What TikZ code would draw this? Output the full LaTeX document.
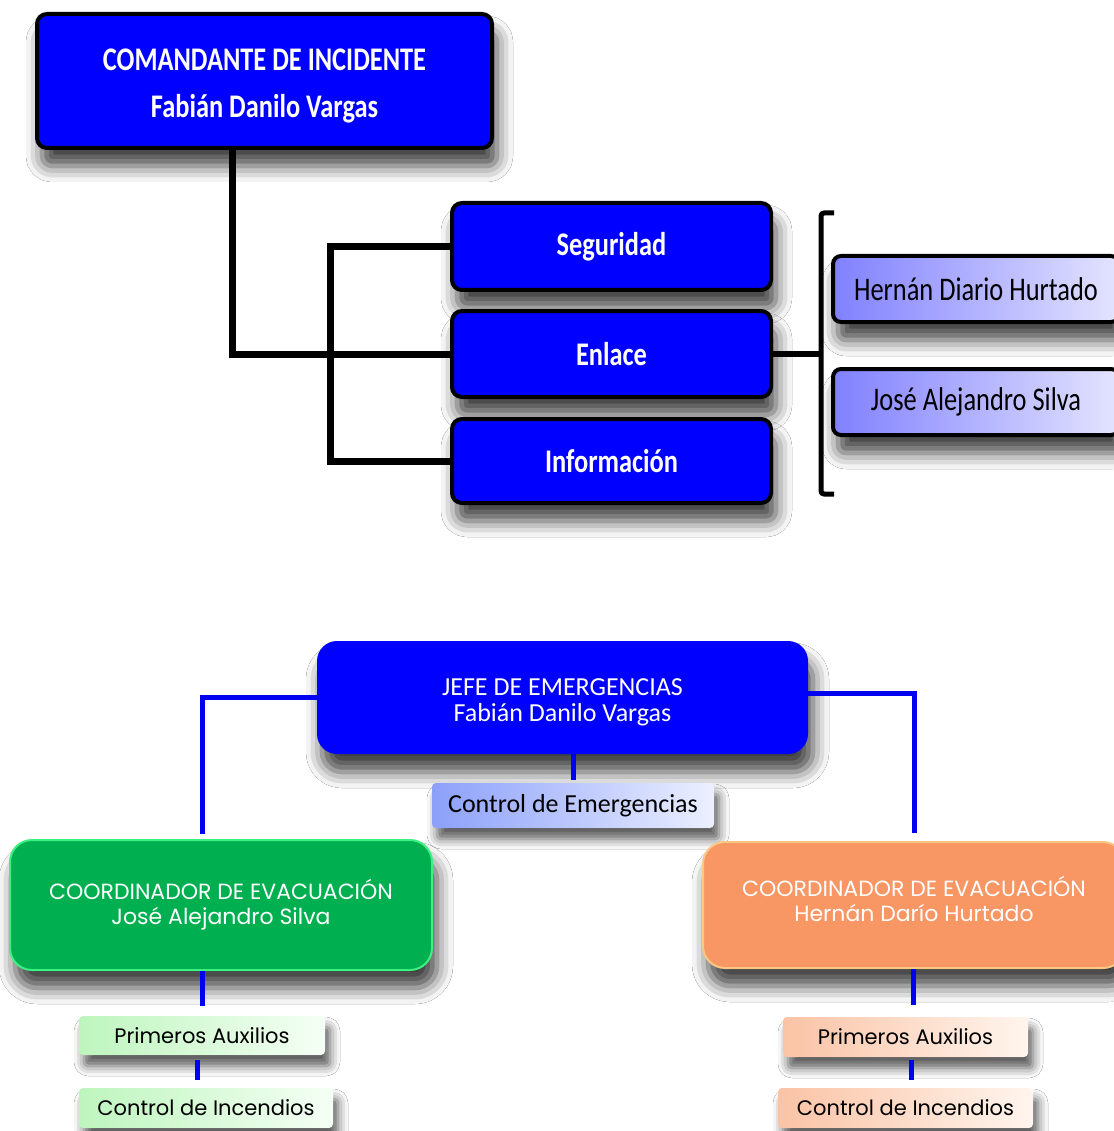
\documentclass[tikz,border=0pt]{standalone}
\usepackage{fontspec}
\setmainfont{Carlito}
\newfontfamily\cnd[FakeStretch=0.8]{Carlito}
\newfontfamily\geo{Poppins}
\usetikzlibrary{shadows.blur}
\definecolor{pblue}{RGB}{0,0,255}
\definecolor{lavA}{RGB}{128,128,255}
\definecolor{lavB}{RGB}{228,228,255}
\definecolor{ceA}{RGB}{140,160,250}
\definecolor{ceB}{RGB}{236,240,255}
\definecolor{grn}{RGB}{0,176,80}
\definecolor{grnrim}{RGB}{60,240,130}
\definecolor{org}{RGB}{248,150,100}
\definecolor{orgrim}{RGB}{250,200,130}
\definecolor{lgA}{RGB}{190,245,190}
\definecolor{lgB}{RGB}{245,255,245}
\definecolor{loA}{RGB}{250,195,165}
\definecolor{loB}{RGB}{255,245,238}
\definecolor{lnblue}{RGB}{0,0,240}
\begin{document}
\begin{tikzpicture}[x=1pt,y=-1pt,
  shd/.style={blur shadow={shadow xshift=5pt,shadow yshift=-18pt,shadow blur radius=16pt,shadow opacity=75}},
  shds/.style={blur shadow={shadow xshift=5pt,shadow yshift=-11pt,shadow blur radius=10pt,shadow opacity=65}},
  topbox/.style={shd,draw=black,line width=4pt,fill=pblue,rounded corners=10pt,text=white,
    font=\cnd\bfseries\fontsize{33}{47}\selectfont,align=center,inner sep=0pt},
  person/.style={shd,draw=black,line width=4pt,rounded corners=8pt,left color=lavA,right color=lavB,
    text=black,font=\cnd\fontsize{33}{40}\selectfont,align=center,inner sep=0pt},
  jefebox/.style={shd,fill=pblue,rounded corners=20pt,text=white,font=\fontsize{26}{26}\selectfont,align=center,inner sep=0pt},
  cebox/.style={shds,left color=ceA,right color=ceB,rounded corners=4pt,text=black,font=\fontsize{26}{26}\selectfont,inner sep=0pt},
  coordbox/.style={shd,rounded corners=22pt,text=white,font=\geo\fontsize{22}{25}\selectfont,align=center,inner sep=0pt,line width=2pt},
  smallg/.style={shds,left color=lgA,right color=lgB,rounded corners=4pt,text=black,font=\geo\fontsize{21}{22}\selectfont,inner sep=0pt},
  smallo/.style={shds,left color=loA,right color=loB,rounded corners=4pt,text=black,font=\geo\fontsize{21}{22}\selectfont,inner sep=0pt},
  blk/.style={draw=black,line width=7pt},
  bln/.style={draw=lnblue,line width=5pt}
]
\useasboundingbox[fill=white] (0,0) rectangle (1113,1131);

% ---------- top chart ----------
\node[topbox,minimum width=455pt,minimum height=134pt] (cmd) at (264.5,81) {\rule{0pt}{31pt}COMANDANTE DE INCIDENTE\\Fabián Danilo Vargas};
\node[topbox,minimum width=319pt,minimum height=87pt] (seg) at (611.5,246.5) {Seguridad};
\node[topbox,minimum width=319pt,minimum height=86pt] (enl) at (611.5,354) {Enlace};
\node[topbox,minimum width=319pt,minimum height=84pt] (inf) at (611.5,461) {Información};
\node[person,minimum width=286pt,minimum height=66pt] (hdh) at (976,289) {Hernán Diario Hurtado};
\node[person,minimum width=286pt,minimum height=66pt] (jas) at (976,402) {José Alejandro Silva};

\draw[blk] ([xshift=-32pt]cmd.south) |- (enl.west);
\draw[blk] (seg.west) -- ++(-120,0) |- (inf.west);
\coordinate (bt) at (834,213);
\coordinate (bb) at (834,494);
\coordinate (bm) at (821,354);
\draw[draw=black,line width=5pt,rounded corners=3pt] (bt) -- (821,213) -- (821,494) -- (bb);
\draw[blk,line width=6pt] (enl.east) -- (bm);

% ---------- bottom chart ----------
\node[jefebox,minimum width=491pt,minimum height=113pt] (jefe) at (562.5,697.5) {\rule{0pt}{26pt}JEFE DE EMERGENCIAS\\Fabián Danilo Vargas};
\node[cebox,minimum width=282pt,minimum height=45pt] (ce) at (573,805.5) {Control de Emergencias};
\node[coordbox,fill=grn,draw=grnrim,minimum width=422pt,minimum height=130pt] (gA) at (221,905) {COORDINADOR DE EVACUACIÓN\\José Alejandro Silva};
\node[coordbox,fill=org,draw=orgrim,minimum width=422pt,minimum height=126pt] (oA) at (914,905) {COORDINADOR DE EVACUACIÓN\\Hernán Darío Hurtado\rule[-12pt]{0pt}{12pt}};
\node[smallg,minimum width=246pt,minimum height=39pt] (gP) at (202,1035.5) {Primeros Auxilios};
\node[smallg,minimum width=254pt,minimum height=40pt] (gC) at (206,1108) {Control de Incendios};
\node[smallo,minimum width=245pt,minimum height=40pt] (oP) at (905.5,1037) {Primeros Auxilios};
\node[smallo,minimum width=255pt,minimum height=40pt] (oC) at (905.5,1108) {Control de Incendios};

\draw[bln,shorten >=5pt] (jefe.west) -| ([xshift=-19pt]gA.north);
\draw[bln,shorten >=8pt] ([yshift=4pt]jefe.east) -| (oA.north);
\draw[bln,shorten >=3pt] (ce.north |- jefe.south) -- (ce.north);
\draw[bln,shorten >=10pt] (gP.north |- gA.south) -- (gP.north);
\draw[bln,shorten <=5pt,shorten >=8pt] ([xshift=-5pt]gP.south) -- ([xshift=-9pt]gC.north);
\draw[bln,shorten >=12pt] ([xshift=8pt]oP.north |- oA.south) -- ([xshift=8pt]oP.north);
\draw[bln,shorten <=3pt,shorten >=8pt] ([xshift=6pt]oP.south) -- ([xshift=6pt]oC.north);
\end{tikzpicture}
\end{document}
